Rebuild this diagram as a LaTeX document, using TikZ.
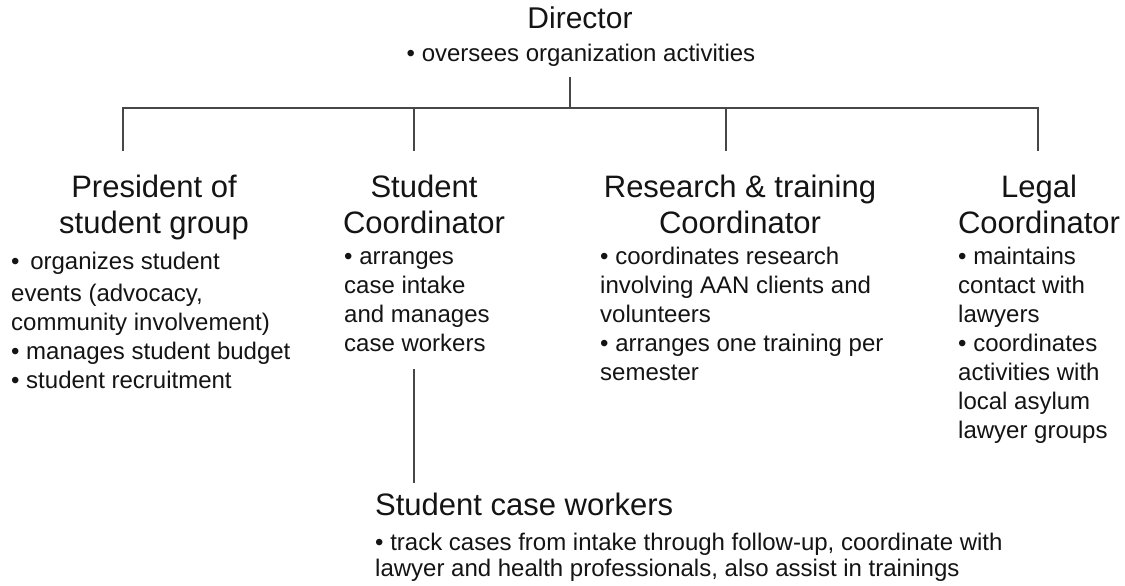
\documentclass[tikz,border=0pt]{standalone}
\usepackage{fontspec}
\setmainfont{Liberation Sans}
\begin{document}
\begin{tikzpicture}[x=1pt,y=-1pt,
  conn/.style={draw=black!72, line width=1.3pt},
  headtext/.style={inner sep=0pt, text=black!92, font=\fontsize{31}{36}\selectfont, align=center, anchor=base},
  bodytext/.style={inner sep=0pt, text=black!92, font=\fontsize{24}{29}\selectfont, align=left, anchor=base west},
]
\useasboundingbox[fill=white] (0,0) rectangle (1125,586);

% Director (multi-line nodes are placed by the baseline of their last line)
\node[headtext, font=\fontsize{30}{36}\selectfont] (director) at (580,29) {Director};
\node[inner sep=0pt, text=black!92, font=\fontsize{24}{29}\selectfont, anchor=base] (dirnote) at (581,62) {• oversees organization activities};

% Second level headings
\node[headtext] (pres)  at (154,233) {President of\\student group};
\node[headtext] (stud)  at (424,233) {Student\\Coordinator};
\node[headtext] (res)   at (740,233) {Research \& training\\Coordinator};
\node[headtext] (legal) at (1039,233) {Legal\\Coordinator};

% Duties
\node[bodytext] (presnote) at (11,388) {•\, organizes student\\[3pt]events (advocacy,\\community involvement)\\• manages student budget\\• student recruitment};
\node[bodytext] (studnote) at (344,351) {• arranges\\case intake\\and manages\\case workers};
\node[bodytext] (resnote) at (600,380) {• coordinates research\\involving AAN clients and\\volunteers\\• arranges one training per\\semester};
\node[bodytext] (legalnote) at (958,438) {• maintains\\contact with\\lawyers\\• coordinates\\activities with\\local asylum\\lawyer groups};

% Case workers
\node[headtext, anchor=base west] (workers) at (375,515) {Student case workers};
\node[bodytext, font=\fontsize{24}{26}\selectfont] (workersnote) at (375,576) {• track cases from intake through follow-up, coordinate with\\lawyer and health professionals, also assist in trainings};

% Connector joints
\coordinate (dstem) at (570,77);
\coordinate (busL) at (123,108);
\coordinate (busR) at (1038,108);
\coordinate (pstem) at (123,151);
\coordinate (sstem) at (414,151);
\coordinate (rstem) at (726,151);
\coordinate (lstem) at (1038,151);
\coordinate (wtop) at (414,369);
\coordinate (wbot) at (414,483);

\draw[conn] (pstem) -- (busL) -- (busR) -- (lstem);
\draw[conn] (dstem) -- (dstem |- busL);
\draw[conn] (sstem) -- (sstem |- busL);
\draw[conn] (rstem) -- (rstem |- busL);
\draw[conn] (wtop) -- (wbot);
\end{tikzpicture}
\end{document}
